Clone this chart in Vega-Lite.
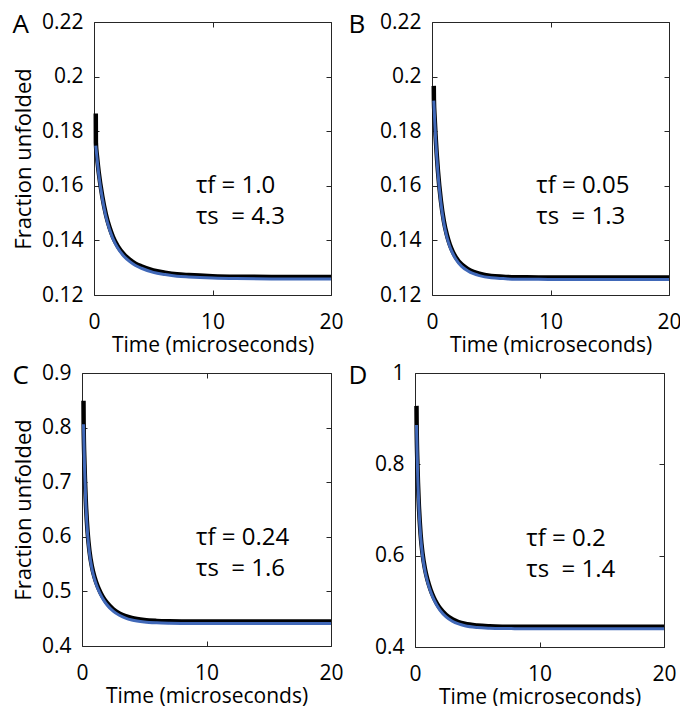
{
  "$schema": "https://vega.github.io/schema/vega-lite/v6.json",
  "background": "white",
  "padding": {"left": 7, "top": 10, "right": 2, "bottom": 0},
  "config": {
    "font": "Open Sans",
    "view": {"stroke": "#262626", "strokeWidth": 1},
    "axis": {"grid": false, "domain": false, "tickSize": -5, "tickColor": "#262626", "tickWidth": 1,
      "labelFontSize": 21, "labelColor": "black", "labelFont": "Open Sans", "labelFlush": false, "labelOverlap": false,
      "titleFontSize": 21, "titleFontWeight": "normal", "titleColor": "black", "titleFont": "Open Sans"},
    "axisX": {"labelPadding": 21, "titlePadding": 2},
    "axisY": {"labelPadding": 16, "titlePadding": 6, "titleFontSize": 22},
    "title": {"fontSize": 26, "fontWeight": "normal", "anchor": "start", "frame": "bounds", "baseline": "alphabetic", "offset": -27, "font": "Open Sans", "color": "black"},
    "line": {"interpolate": "monotone", "clip": true},
    "text": {"font": "Open Sans", "fontSize": 24, "align": "left", "baseline": "alphabetic", "lineHeight": 31, "color": "black"}
  },
  "datasets": {
    "A": [
      {"curve": "data", "t": 0.15, "y": 0.1865}, {"curve": "data", "t": 0.16, "y": 0.1756}, {"curve": "data", "t": 0.25, "y": 0.1709},
      {"curve": "data", "t": 0.4, "y": 0.1649}, {"curve": "data", "t": 0.7, "y": 0.1561}, {"curve": "data", "t": 1, "y": 0.1496},
      {"curve": "data", "t": 1.3, "y": 0.1449}, {"curve": "data", "t": 1.6, "y": 0.1413}, {"curve": "data", "t": 2, "y": 0.1379},
      {"curve": "data", "t": 2.5, "y": 0.135}, {"curve": "data", "t": 3, "y": 0.133}, {"curve": "data", "t": 3.5, "y": 0.1315},
      {"curve": "data", "t": 4, "y": 0.1305}, {"curve": "data", "t": 5, "y": 0.129}, {"curve": "data", "t": 6, "y": 0.1282},
      {"curve": "data", "t": 7, "y": 0.1276}, {"curve": "data", "t": 8, "y": 0.1273}, {"curve": "data", "t": 10, "y": 0.1269},
      {"curve": "data", "t": 12, "y": 0.1267}, {"curve": "data", "t": 15, "y": 0.1266}, {"curve": "data", "t": 20, "y": 0.1266},
      {"curve": "fit", "t": 0.15, "y": 0.1747}, {"curve": "fit", "t": 0.25, "y": 0.1702}, {"curve": "fit", "t": 0.4, "y": 0.1642},
      {"curve": "fit", "t": 0.7, "y": 0.1554}, {"curve": "fit", "t": 1, "y": 0.1489}, {"curve": "fit", "t": 1.3, "y": 0.1442},
      {"curve": "fit", "t": 1.6, "y": 0.1406}, {"curve": "fit", "t": 2, "y": 0.1372}, {"curve": "fit", "t": 2.5, "y": 0.1343},
      {"curve": "fit", "t": 3, "y": 0.1323}, {"curve": "fit", "t": 3.5, "y": 0.1308}, {"curve": "fit", "t": 4, "y": 0.1298},
      {"curve": "fit", "t": 5, "y": 0.1283}, {"curve": "fit", "t": 6, "y": 0.1275}, {"curve": "fit", "t": 7, "y": 0.1269},
      {"curve": "fit", "t": 8, "y": 0.1266}, {"curve": "fit", "t": 10, "y": 0.1262}, {"curve": "fit", "t": 12, "y": 0.126},
      {"curve": "fit", "t": 15, "y": 0.1259}, {"curve": "fit", "t": 20, "y": 0.1259}
    ],
    "B": [
      {"curve": "data", "t": 0.15, "y": 0.1966}, {"curve": "data", "t": 0.16, "y": 0.1917}, {"curve": "data", "t": 0.22, "y": 0.1852},
      {"curve": "data", "t": 0.3, "y": 0.1785}, {"curve": "data", "t": 0.5, "y": 0.1655}, {"curve": "data", "t": 0.75, "y": 0.1545},
      {"curve": "data", "t": 1, "y": 0.1471}, {"curve": "data", "t": 1.25, "y": 0.1421}, {"curve": "data", "t": 1.5, "y": 0.1385},
      {"curve": "data", "t": 1.75, "y": 0.1359}, {"curve": "data", "t": 2, "y": 0.1339}, {"curve": "data", "t": 2.5, "y": 0.1312},
      {"curve": "data", "t": 3, "y": 0.1296}, {"curve": "data", "t": 3.5, "y": 0.1285}, {"curve": "data", "t": 4, "y": 0.1278},
      {"curve": "data", "t": 5, "y": 0.127}, {"curve": "data", "t": 6, "y": 0.1267}, {"curve": "data", "t": 7, "y": 0.1265},
      {"curve": "data", "t": 8, "y": 0.1265}, {"curve": "data", "t": 10, "y": 0.1264}, {"curve": "data", "t": 15, "y": 0.1264},
      {"curve": "data", "t": 20, "y": 0.1264},
      {"curve": "fit", "t": 0.15, "y": 0.1912}, {"curve": "fit", "t": 0.22, "y": 0.1845}, {"curve": "fit", "t": 0.3, "y": 0.1778},
      {"curve": "fit", "t": 0.5, "y": 0.1648}, {"curve": "fit", "t": 0.75, "y": 0.1538}, {"curve": "fit", "t": 1, "y": 0.1464},
      {"curve": "fit", "t": 1.25, "y": 0.1414}, {"curve": "fit", "t": 1.5, "y": 0.1378}, {"curve": "fit", "t": 1.75, "y": 0.1352},
      {"curve": "fit", "t": 2, "y": 0.1332}, {"curve": "fit", "t": 2.5, "y": 0.1305}, {"curve": "fit", "t": 3, "y": 0.1289},
      {"curve": "fit", "t": 3.5, "y": 0.1278}, {"curve": "fit", "t": 4, "y": 0.1271}, {"curve": "fit", "t": 5, "y": 0.1263},
      {"curve": "fit", "t": 6, "y": 0.126}, {"curve": "fit", "t": 7, "y": 0.1258}, {"curve": "fit", "t": 8, "y": 0.1258},
      {"curve": "fit", "t": 10, "y": 0.1257}, {"curve": "fit", "t": 15, "y": 0.1257}, {"curve": "fit", "t": 20, "y": 0.1257}
    ],
    "C": [
      {"curve": "data", "t": 0.12, "y": 0.849}, {"curve": "data", "t": 0.13, "y": 0.81}, {"curve": "data", "t": 0.2, "y": 0.7332},
      {"curve": "data", "t": 0.3, "y": 0.6681}, {"curve": "data", "t": 0.45, "y": 0.6085}, {"curve": "data", "t": 0.6, "y": 0.5735},
      {"curve": "data", "t": 0.8, "y": 0.5451}, {"curve": "data", "t": 1, "y": 0.5266}, {"curve": "data", "t": 1.25, "y": 0.5098},
      {"curve": "data", "t": 1.5, "y": 0.4972}, {"curve": "data", "t": 1.75, "y": 0.4872}, {"curve": "data", "t": 2, "y": 0.4792},
      {"curve": "data", "t": 2.5, "y": 0.4675}, {"curve": "data", "t": 3, "y": 0.4598}, {"curve": "data", "t": 3.5, "y": 0.4547},
      {"curve": "data", "t": 4, "y": 0.4513}, {"curve": "data", "t": 5, "y": 0.4476}, {"curve": "data", "t": 6, "y": 0.446},
      {"curve": "data", "t": 7, "y": 0.4453}, {"curve": "data", "t": 8, "y": 0.445}, {"curve": "data", "t": 10, "y": 0.4448},
      {"curve": "data", "t": 15, "y": 0.4448}, {"curve": "data", "t": 20, "y": 0.4448},
      {"curve": "fit", "t": 0.12, "y": 0.8062}, {"curve": "fit", "t": 0.2, "y": 0.7296}, {"curve": "fit", "t": 0.3, "y": 0.6645},
      {"curve": "fit", "t": 0.45, "y": 0.6049}, {"curve": "fit", "t": 0.6, "y": 0.5699}, {"curve": "fit", "t": 0.8, "y": 0.5415},
      {"curve": "fit", "t": 1, "y": 0.523}, {"curve": "fit", "t": 1.25, "y": 0.5062}, {"curve": "fit", "t": 1.5, "y": 0.4936},
      {"curve": "fit", "t": 1.75, "y": 0.4836}, {"curve": "fit", "t": 2, "y": 0.4756}, {"curve": "fit", "t": 2.5, "y": 0.4639},
      {"curve": "fit", "t": 3, "y": 0.4562}, {"curve": "fit", "t": 3.5, "y": 0.4511}, {"curve": "fit", "t": 4, "y": 0.4477},
      {"curve": "fit", "t": 5, "y": 0.444}, {"curve": "fit", "t": 6, "y": 0.4424}, {"curve": "fit", "t": 7, "y": 0.4417},
      {"curve": "fit", "t": 8, "y": 0.4414}, {"curve": "fit", "t": 10, "y": 0.4412}, {"curve": "fit", "t": 15, "y": 0.4412},
      {"curve": "fit", "t": 20, "y": 0.4412}
    ],
    "D": [
      {"curve": "data", "t": 0.12, "y": 0.928}, {"curve": "data", "t": 0.13, "y": 0.89}, {"curve": "data", "t": 0.2, "y": 0.7955},
      {"curve": "data", "t": 0.3, "y": 0.717}, {"curve": "data", "t": 0.45, "y": 0.6468}, {"curve": "data", "t": 0.6, "y": 0.6056},
      {"curve": "data", "t": 0.8, "y": 0.571}, {"curve": "data", "t": 1, "y": 0.5474}, {"curve": "data", "t": 1.25, "y": 0.5255},
      {"curve": "data", "t": 1.5, "y": 0.5088}, {"curve": "data", "t": 1.75, "y": 0.4956}, {"curve": "data", "t": 2, "y": 0.4851},
      {"curve": "data", "t": 2.5, "y": 0.4702}, {"curve": "data", "t": 3, "y": 0.4607}, {"curve": "data", "t": 3.5, "y": 0.4547},
      {"curve": "data", "t": 4, "y": 0.4508}, {"curve": "data", "t": 5, "y": 0.4469}, {"curve": "data", "t": 6, "y": 0.4453},
      {"curve": "data", "t": 7, "y": 0.4446}, {"curve": "data", "t": 8, "y": 0.4444}, {"curve": "data", "t": 10, "y": 0.4442},
      {"curve": "data", "t": 15, "y": 0.4442}, {"curve": "data", "t": 20, "y": 0.4442},
      {"curve": "fit", "t": 0.12, "y": 0.886}, {"curve": "fit", "t": 0.2, "y": 0.7913}, {"curve": "fit", "t": 0.3, "y": 0.7128},
      {"curve": "fit", "t": 0.45, "y": 0.6426}, {"curve": "fit", "t": 0.6, "y": 0.6014}, {"curve": "fit", "t": 0.8, "y": 0.5668},
      {"curve": "fit", "t": 1, "y": 0.5432}, {"curve": "fit", "t": 1.25, "y": 0.5213}, {"curve": "fit", "t": 1.5, "y": 0.5046},
      {"curve": "fit", "t": 1.75, "y": 0.4914}, {"curve": "fit", "t": 2, "y": 0.4809}, {"curve": "fit", "t": 2.5, "y": 0.466},
      {"curve": "fit", "t": 3, "y": 0.4565}, {"curve": "fit", "t": 3.5, "y": 0.4505}, {"curve": "fit", "t": 4, "y": 0.4466},
      {"curve": "fit", "t": 5, "y": 0.4427}, {"curve": "fit", "t": 6, "y": 0.4411}, {"curve": "fit", "t": 7, "y": 0.4404},
      {"curve": "fit", "t": 8, "y": 0.4402}, {"curve": "fit", "t": 10, "y": 0.44}, {"curve": "fit", "t": 15, "y": 0.44},
      {"curve": "fit", "t": 20, "y": 0.44}
    ]
  },
  "spacing": 5,
  "vconcat": [
    {
      "spacing": 3,
      "hconcat": [
        {"width": 1, "height": 1, "view": {"stroke": null}, "data": {"values": []}, "mark": "point"},
        {
          "width": 237, "height": 273,
          "title": {"text": "A"},
          "data": {"name": "A"},
          "resolve": {"axis": {"x": "independent", "y": "independent"}},
          "layer": [
            {"transform": [{"filter": "datum.curve == 'data'"}],
             "mark": {"type": "line", "color": "black", "strokeWidth": 4.5},
             "encoding": {
               "x": {"field": "t", "type": "quantitative", "scale": {"domain": [0, 20], "nice": false}, "axis": {"values": [0, 10, 20], "title": "Time (microseconds)"}},
               "y": {"field": "y", "type": "quantitative", "scale": {"domain": [0.12, 0.22], "nice": false, "zero": false}, "axis": {"values": [0.12, 0.14, 0.16, 0.18, 0.2, 0.22], "format": "~g", "title": "Fraction unfolded"}}}},
            {"transform": [{"filter": "datum.curve == 'fit'"}],
             "mark": {"type": "line", "color": "#4068B8", "strokeWidth": 3},
             "encoding": {
               "x": {"field": "t", "type": "quantitative", "axis": {"orient": "top", "values": [0, 10, 20], "labels": false, "title": null}},
               "y": {"field": "y", "type": "quantitative", "axis": {"orient": "right", "values": [0.12, 0.14, 0.16, 0.18, 0.2, 0.22], "labels": false, "title": null}}}},
            {"data": {"values": [{}]},
             "mark": {"type": "text"},
             "encoding": {
               "x": {"datum": 8.6, "type": "quantitative", "axis": null},
               "y": {"datum": 0.1574, "type": "quantitative", "axis": null},
               "text": {"value": ["τf = 1.0", "τs\u00a0 = 4.3"]}}}
          ]
        },
        {
          "width": 237, "height": 273,
          "title": {"text": "B", "dx": -31},
          "data": {"name": "B"},
          "resolve": {"axis": {"x": "independent", "y": "independent"}},
          "layer": [
            {"transform": [{"filter": "datum.curve == 'data'"}],
             "mark": {"type": "line", "color": "black", "strokeWidth": 4.5},
             "encoding": {
               "x": {"field": "t", "type": "quantitative", "scale": {"domain": [0, 20], "nice": false}, "axis": {"values": [0, 10, 20], "title": "Time (microseconds)"}},
               "y": {"field": "y", "type": "quantitative", "scale": {"domain": [0.12, 0.22], "nice": false, "zero": false}, "axis": {"values": [0.12, 0.14, 0.16, 0.18, 0.2, 0.22], "format": "~g", "title": null}}}},
            {"transform": [{"filter": "datum.curve == 'fit'"}],
             "mark": {"type": "line", "color": "#4068B8", "strokeWidth": 3},
             "encoding": {
               "x": {"field": "t", "type": "quantitative", "axis": {"orient": "top", "values": [0, 10, 20], "labels": false, "title": null}},
               "y": {"field": "y", "type": "quantitative", "axis": {"orient": "right", "values": [0.12, 0.14, 0.16, 0.18, 0.2, 0.22], "labels": false, "title": null}}}},
            {"data": {"values": [{}]},
             "mark": {"type": "text"},
             "encoding": {
               "x": {"datum": 8.8, "type": "quantitative", "axis": null},
               "y": {"datum": 0.1574, "type": "quantitative", "axis": null},
               "text": {"value": ["τf = 0.05", "τs\u00a0 = 1.3"]}}}
          ]
        }
      ]
    },
    {
      "spacing": 3,
      "hconcat": [
        {"width": 1, "height": 1, "view": {"stroke": null}, "data": {"values": []}, "mark": "point"},
        {
          "width": 249, "height": 273,
          "title": {"text": "C"},
          "data": {"name": "C"},
          "resolve": {"axis": {"x": "independent", "y": "independent"}},
          "layer": [
            {"transform": [{"filter": "datum.curve == 'data'"}],
             "mark": {"type": "line", "color": "black", "strokeWidth": 4.5},
             "encoding": {
               "x": {"field": "t", "type": "quantitative", "scale": {"domain": [0, 20], "nice": false}, "axis": {"values": [0, 10, 20], "title": "Time (microseconds)"}},
               "y": {"field": "y", "type": "quantitative", "scale": {"domain": [0.4, 0.9], "nice": false, "zero": false}, "axis": {"values": [0.4, 0.5, 0.6, 0.7, 0.8, 0.9], "format": "~g", "title": "Fraction unfolded"}}}},
            {"transform": [{"filter": "datum.curve == 'fit'"}],
             "mark": {"type": "line", "color": "#4068B8", "strokeWidth": 3},
             "encoding": {
               "x": {"field": "t", "type": "quantitative", "axis": {"orient": "top", "values": [0, 10, 20], "labels": false, "title": null}},
               "y": {"field": "y", "type": "quantitative", "axis": {"orient": "right", "values": [0.4, 0.5, 0.6, 0.7, 0.8, 0.9], "labels": false, "title": null}}}},
            {"data": {"values": [{}]},
             "mark": {"type": "text"},
             "encoding": {
               "x": {"datum": 9.16, "type": "quantitative", "axis": null},
               "y": {"datum": 0.5855, "type": "quantitative", "axis": null},
               "text": {"value": ["τf = 0.24", "τs\u00a0 = 1.6"]}}}
          ]
        },
        {
          "width": 249, "height": 274,
          "title": {"text": "D", "dx": -26},
          "data": {"name": "D"},
          "resolve": {"axis": {"x": "independent", "y": "independent"}},
          "layer": [
            {"transform": [{"filter": "datum.curve == 'data'"}],
             "mark": {"type": "line", "color": "black", "strokeWidth": 4.5},
             "encoding": {
               "x": {"field": "t", "type": "quantitative", "scale": {"domain": [0, 20], "nice": false}, "axis": {"values": [0, 10, 20], "title": "Time (microseconds)"}},
               "y": {"field": "y", "type": "quantitative", "scale": {"domain": [0.4, 1.0], "nice": false, "zero": false}, "axis": {"values": [0.4, 0.6, 0.8, 1.0], "format": "~g", "title": null}}}},
            {"transform": [{"filter": "datum.curve == 'fit'"}],
             "mark": {"type": "line", "color": "#4068B8", "strokeWidth": 3},
             "encoding": {
               "x": {"field": "t", "type": "quantitative", "axis": {"orient": "top", "values": [0, 10, 20], "labels": false, "title": null}},
               "y": {"field": "y", "type": "quantitative", "axis": {"orient": "right", "values": [0.4, 0.6, 0.8, 1.0], "labels": false, "title": null}}}},
            {"data": {"values": [{}]},
             "mark": {"type": "text"},
             "encoding": {
               "x": {"datum": 8.94, "type": "quantitative", "axis": null},
               "y": {"datum": 0.622, "type": "quantitative", "axis": null},
               "text": {"value": ["τf = 0.2", "τs\u00a0 = 1.4"]}}}
          ]
        }
      ]
    }
  ]
}
